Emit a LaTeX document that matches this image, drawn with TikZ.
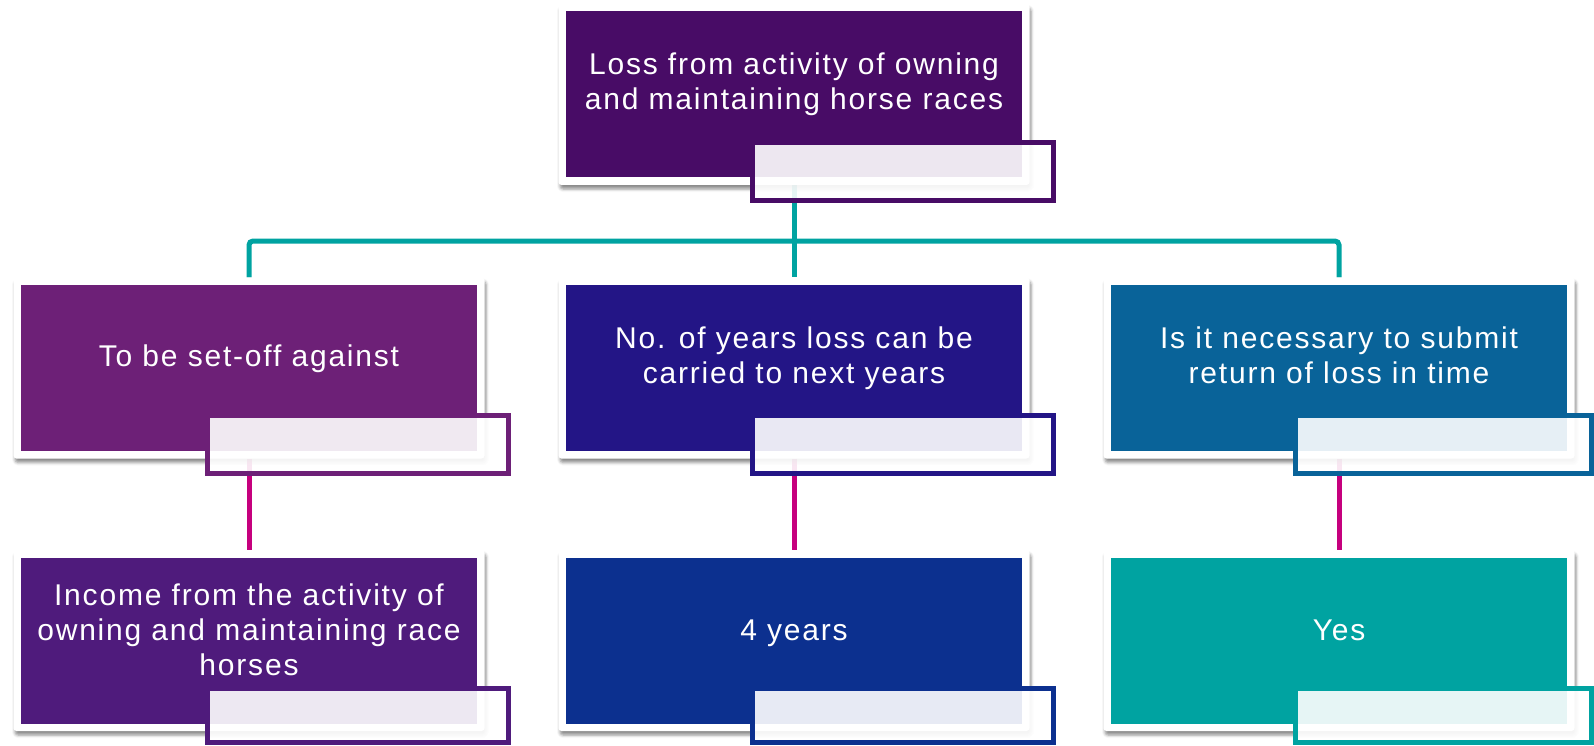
\documentclass[tikz,border=0pt]{standalone}
\usepackage{fontspec}
\newfontfamily\boxfont{Liberation Sans}[LetterSpace=6]
\usetikzlibrary{shadows.blur}
\definecolor{cTop}{HTML}{480C66}
\definecolor{cLa}{HTML}{6D2077}
\definecolor{cMa}{HTML}{231586}
\definecolor{cRa}{HTML}{096399}
\definecolor{cLb}{HTML}{4F1B7C}
\definecolor{cMb}{HTML}{0C308F}
\definecolor{cRb}{HTML}{00A3A1}
\definecolor{cTeal}{HTML}{00A3A1}
\definecolor{cMag}{HTML}{C6007E}
\pgfdeclarelayer{bg}
\pgfsetlayers{bg,main}
\newcommand\kbox[6]{%
  \node[frm] (#1F) at (#2,#3) {};
  \node[fil=#5] (#1) at (#2,#3) {};
  \node[txt] (#1T) at (#2,#4) {#6};
}
\begin{document}
\begin{tikzpicture}[x=1pt,y=-1pt,
  frm/.style={draw=none, fill=white, rounded corners=3pt, minimum width=471pt, minimum height=181pt, inner sep=0pt,
    blur shadow={shadow xshift=1.5pt, shadow yshift=-4pt, shadow blur radius=3pt, shadow opacity=45}},
  fil/.style={fill=#1, draw=none, minimum width=456pt, minimum height=166pt, inner sep=0pt},
  txt/.style={text=white, font=\boxfont\fontsize{30}{35}\selectfont, align=center, inner sep=0pt},
  ovl/.style={draw=#1, line width=5pt, fill=white, fill opacity=0.9},
  tealc/.style={draw=cTeal, line width=5pt, rounded corners=4pt},
  magc/.style={draw=cMag, line width=5pt}]
\useasboundingbox (0,0) rectangle (1594,746);

\kbox{top}{794}{94.5}{85.5}{cTop}{\strut Loss from activity of owning\\\strut and maintaining horse races}
\kbox{La}{249}{368}{359}{cLa}{\strut To be set-off against}
\kbox{Ma}{794}{368}{358.5}{cMa}{\strut No. of years loss can be\\\strut carried to next years}
\kbox{Ra}{1339}{368}{358.5}{cRa}{\strut Is it necessary to submit\\\strut return of loss in time}
\kbox{Lb}{249}{640.5}{633}{cLb}{\strut Income from the activity of\\\strut owning and maintaining race\\\strut horses}
\kbox{Mb}{794}{640.5}{633}{cMb}{\strut 4 years}
\kbox{Rb}{1339}{640.5}{633}{cRb}{\strut Yes}

\coordinate (hub) at (794,241);
\begin{pgfonlayer}{bg}
  \draw[tealc] (topF.south) -- (hub);
  \draw[tealc] (LaF.north) |- (hub) -| (RaF.north);
  \draw[tealc] (hub) -- (MaF.north);
  \draw[magc] (LaF.south) -- (LbF.north);
  \draw[magc] (MaF.south) -- (MbF.north);
  \draw[magc] (RaF.south) -- (RbF.north);
\end{pgfonlayer}

\draw[ovl=cTop] ([xshift=186.5pt,yshift=35.5pt]top.south west) rectangle ([xshift=31.5pt,yshift=-22.5pt]top.south east);
\draw[ovl=cLa] ([xshift=186.5pt,yshift=35.5pt]La.south west) rectangle ([xshift=31.5pt,yshift=-22.5pt]La.south east);
\draw[ovl=cMa] ([xshift=186.5pt,yshift=35.5pt]Ma.south west) rectangle ([xshift=31.5pt,yshift=-22.5pt]Ma.south east);
\draw[ovl=cRa] ([xshift=184.5pt,yshift=35.5pt]Ra.south west) rectangle ([xshift=24pt,yshift=-22.5pt]Ra.south east);
\draw[ovl=cLb] ([xshift=186.5pt,yshift=35.5pt]Lb.south west) rectangle ([xshift=31.5pt,yshift=-19pt]Lb.south east);
\draw[ovl=cMb] ([xshift=186.5pt,yshift=35.5pt]Mb.south west) rectangle ([xshift=31.5pt,yshift=-19pt]Mb.south east);
\draw[ovl=cRb] ([xshift=184.5pt,yshift=35.5pt]Rb.south west) rectangle ([xshift=24pt,yshift=-19pt]Rb.south east);
\end{tikzpicture}
\end{document}
